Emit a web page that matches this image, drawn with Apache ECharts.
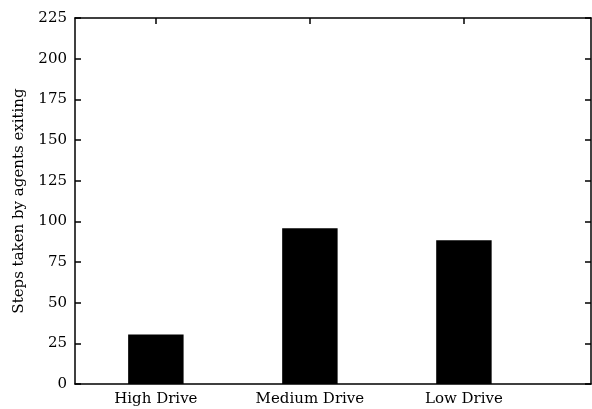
<!DOCTYPE html>
<html>
<head>
<meta charset="utf-8">
<style>
  html, body { margin: 0; padding: 0; background: #fff; }
  #chart { width: 592px; height: 409px; }
</style>
<script src="https://cdn.jsdelivr.net/npm/echarts@6/dist/echarts.min.js"></script>
</head>
<body>
<div id="chart"></div>
<script>
// Drive levels and the mean number of steps agents took to exit
const categories = ['High Drive', 'Medium Drive', 'Low Drive'];
const stepsTaken = [30.5, 95.7, 88.3];
const yTicks = [0, 25, 50, 75, 100, 125, 150, 175, 200, 225];

const FONT = 'DejaVu Serif';
const barHalfWidth = 0.18;          // bar half-width in x-axis units
const positions = categories.map((_, i) => i);

const chart = echarts.init(document.getElementById('chart'), null, { renderer: 'canvas' });

const axisLine = { show: true, onZero: false, lineStyle: { color: '#000', width: 1.5 } };
const tickStyle = { color: '#000', width: 1.5 };

chart.setOption({
  animation: false,
  backgroundColor: '#fff',
  grid: { left: 75, right: 1, top: 18, bottom: 25, containLabel: false },
  xAxis: [
    {
      type: 'value', position: 'bottom',
      min: -0.525, max: 2.825,
      axisLine: axisLine,
      splitLine: { show: false },
      axisTick: { show: true, inside: true, length: 6, customValues: positions, lineStyle: tickStyle },
      axisLabel: {
        customValues: positions,
        formatter: v => categories[Math.round(v)],
        fontFamily: FONT, fontSize: 15, color: '#000', margin: 8
      }
    },
    {
      type: 'value', position: 'top',
      min: -0.525, max: 2.825,
      axisLine: axisLine,
      splitLine: { show: false },
      axisTick: { show: true, inside: true, length: 6, customValues: positions, lineStyle: tickStyle },
      axisLabel: { show: false }
    }
  ],
  yAxis: [
    {
      type: 'value', position: 'left',
      min: 0, max: 225, interval: 25,
      axisLine: axisLine,
      splitLine: { show: false },
      axisTick: { show: true, inside: true, length: 6, customValues: yTicks, lineStyle: tickStyle },
      axisLabel: { fontFamily: FONT, fontSize: 15, color: '#000', margin: 8,
                   customValues: yTicks, formatter: v => String(v) },
      name: 'Steps taken by agents exiting',
      nameLocation: 'middle',
      nameGap: 48,
      nameTextStyle: { fontFamily: FONT, fontSize: 15, color: '#000' }
    },
    {
      type: 'value', position: 'right',
      min: 0, max: 225, interval: 25,
      axisLine: axisLine,
      splitLine: { show: false },
      axisTick: { show: true, inside: true, length: 6, customValues: yTicks, lineStyle: tickStyle },
      axisLabel: { show: false }
    }
  ],
  series: [{
    type: 'custom',
    xAxisIndex: 0, yAxisIndex: 0,
    data: stepsTaken.map((v, i) => [positions[i], v]),
    renderItem: function (params, api) {
      const x = api.value(0), v = api.value(1);
      const topLeft = api.coord([x - barHalfWidth, v]);
      const bottomRight = api.coord([x + barHalfWidth, 0]);
      return {
        type: 'rect',
        shape: { x: topLeft[0], y: topLeft[1],
                 width: bottomRight[0] - topLeft[0], height: bottomRight[1] - topLeft[1] },
        style: { fill: '#000' }
      };
    },
    z: 1
  }]
});
</script>
</body>
</html>
